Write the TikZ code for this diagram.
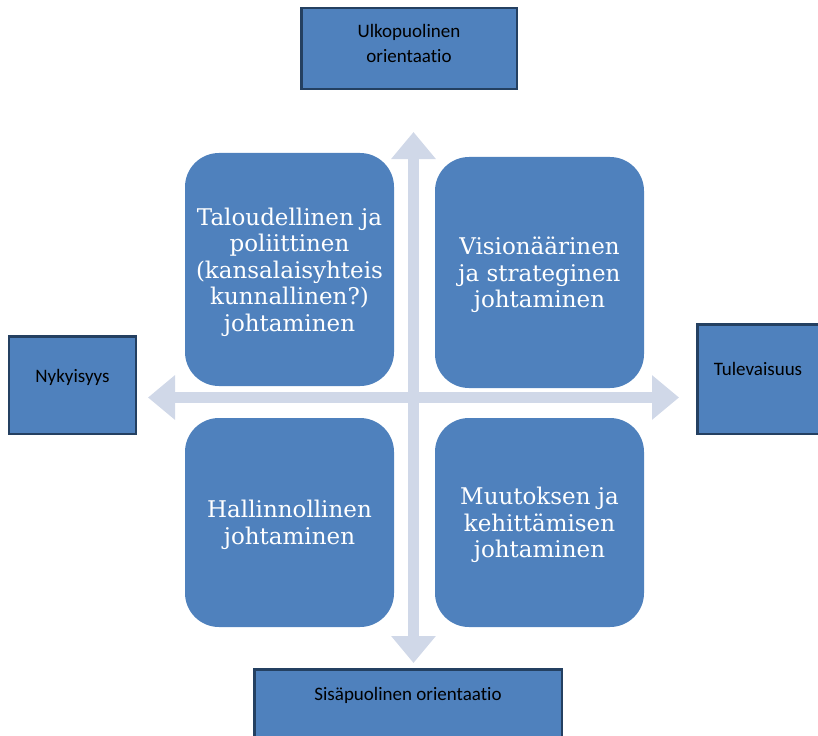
\documentclass[tikz,border=0pt]{standalone}
\usepackage{fontspec}
\usetikzlibrary{arrows.meta,positioning}
\newfontfamily\quadfont{DejaVu Serif}
\newfontfamily\tagfont[Ligatures=NoCommon,RawFeature={-liga;-clig;-calt}]{Carlito}

% Colours of the picture
\definecolor{r79g129b189}{rgb}{0.309804,0.505882,0.741176}%
\definecolor{r36g64b97}{rgb}{0.141176,0.250980,0.380392}%
\definecolor{r208g216b232}{rgb}{0.815686,0.847059,0.909804}%

\tikzset{
  quadrant/.style={fill=r79g129b189, rounded corners=34bp, minimum width=209bp,
    inner sep=0pt, text=white, align=center, text depth=-6bp,
    font=\quadfont\fontsize{23bp}{26.5bp}\selectfont},
  tagbox/.style={fill=r79g129b189, draw=r36g64b97, line width=2.5bp, inner sep=0pt},
  tagtext/.style={inner sep=0pt, align=center, text=black,
    font=\tagfont\fontsize{19bp}{25bp}\selectfont},
  axis/.style={draw=r208g216b232, line width=11bp,
    arrows={Triangle[width=43bp,length=27bp]-Triangle[width=43bp,length=27bp]}},
}

\begin{document}
\begin{tikzpicture}[x=1bp,y=-1bp]
                    \useasboundingbox (0,0) rectangle (818,736);
                    \clip (0,0) rectangle (818,736);

                    % Axis end points
                    \coordinate (up) at (413.5,132);
                    \coordinate (down) at (413.5,663);
                    \coordinate (past) at (148,397.5);
                    \coordinate (future) at (679,397.5);

                    % Drawing axis up down
                    \draw [axis] (down) -- (up);%

                    % Drawing axis past future
                    \draw [axis] (past) -- (future);%

                    % Quadrants
                    \node [quadrant, minimum height=233bp] (talous) at (289.5,269.5)
                      {Taloudellinen ja\\poliittinen\\(kansalaisyhteis\\kunnallinen?)\\johtaminen};
                    \node [quadrant, minimum height=231bp] (visio) at (539.5,272.5)
                      {Visionäärinen\\ja strateginen\\johtaminen};
                    \node [quadrant, minimum height=209bp] (hallinto) at (289.5,522.5)
                      {Hallinnollinen\\johtaminen};
                    \node [quadrant, minimum height=209bp] (muutos) at (539.5,522.5)
                      {Muutoksen ja\\kehittämisen\\johtaminen};

                    % Orientation boxes
                    \node [tagbox, minimum width=215.5bp, minimum height=80.5bp] (ulko) at (409,48.5) {};
                    \node [tagtext, below=17bp of ulko.north] (ulkot) {Ulkopuolinen\\orientaatio};

                    \node [tagbox, minimum width=307.5bp, minimum height=89.5bp] (sisa) at (408,714) {};
                    \node [tagtext, below=19bp of sisa.north] (sisat) {Sisäpuolinen orientaatio};

                    % Time boxes
                    \node [tagbox, minimum width=126.5bp, minimum height=97.5bp] (nyky) at (72.5,385) {};
                    \node [tagtext, below=34bp of nyky.north] (nykyt) {Nykyisyys};

                    \node [tagbox, minimum width=121.5bp, minimum height=109.5bp] (tule) at (758,379) {};
                    \node [tagtext, below=39bp of tule.north] (tulet) {Tulevaisuus};
\end{tikzpicture}
\end{document}
